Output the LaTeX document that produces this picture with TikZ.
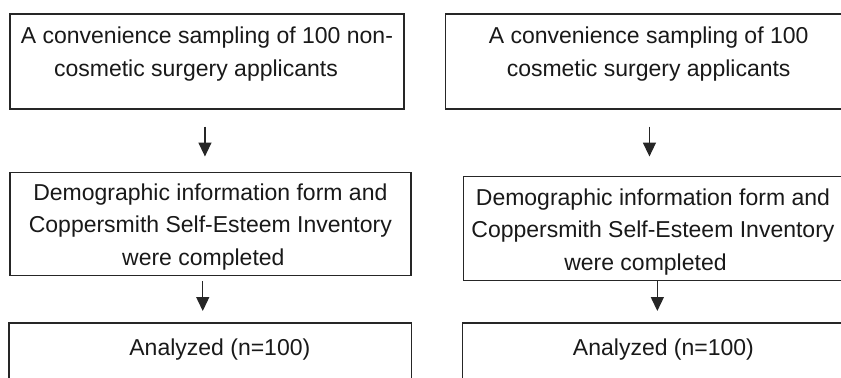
\documentclass[tikz,border=0pt]{standalone}
\usepackage{fontspec}
\setmainfont{Liberation Sans}
\usetikzlibrary{positioning}
\usetikzlibrary{arrows.meta}

\begin{document}
\begin{tikzpicture}[
    box/.style={rectangle, draw=black!85, line width=0.75pt, fill=white, inner xsep=0pt, inner ysep=0pt, font=\fontsize{11.5}{16.25}\selectfont, text=black!90},
    openbox/.style={box, draw=none, fill=none},
    frame/.style={draw=black!85, line width=0.75pt},
    arrow/.style={-{Triangle[width=6.5pt,length=7pt]}, line width=0.7pt, draw=black!85},
]
    \useasboundingbox (0,0) rectangle (420.5pt,-188.5pt);
    \clip (0,0) rectangle (420.5pt,-188.5pt);

    \node[box] (L1) [anchor=north west, minimum width=197pt, text height=15pt, text depth=32.5pt] at (4.6pt,-6.5pt) {\begin{tabular}[t]{@{}c@{}}A convenience sampling of 100 non-\\ cosmetic surgery applicants\hspace*{11pt}\end{tabular}};
    \node[box] (L2) [below=31pt of L1.south west, anchor=north west, minimum width=200.4pt, text height=14.1pt, text depth=37.4pt] {\begin{tabular}[t]{@{}c@{}}Demographic information form and\\ Coppersmith Self-Esteem Inventory\\ were completed\hspace*{7pt}\end{tabular}};
    \node[openbox] (L3) [below=23.5pt of L2.south west, anchor=north west, minimum width=200.4pt, text height=16pt, text depth=40pt] {\hspace*{9.5pt}Analyzed (n=100)};

    \node[box] (R1) [right=20pt of L1.north east, anchor=north west, minimum width=198.2pt, text height=15pt, text depth=32.5pt] {\begin{tabular}[t]{@{\hspace*{5pt}}c@{}}A convenience sampling of 100\\ cosmetic surgery applicants\end{tabular}};
    \node[box] (R2) [below=33pt of R1.south west, anchor=north west, xshift=9pt, minimum width=189.5pt, text height=14.6pt, text depth=37.4pt] {\begin{tabular}[t]{@{}c@{}}Demographic information form and\\ Coppersmith Self-Esteem Inventory\\ were completed\hspace*{7.5pt}\end{tabular}};
    \node[openbox] (R3) [below=21pt of R2.south west, anchor=north west, minimum width=189.5pt, text height=16pt, text depth=40pt] {\hspace*{10.5pt}Analyzed (n=100)};

    \draw[frame] (L3.south west) |- (L3.north east) -- (L3.south east);
    \draw[frame] (R3.south west) |- (R3.north east) -- (R3.south east);

    \draw[arrow, shorten <=8.5pt, shorten >=7.5pt] ([xshift=-1pt]L1.south) -- ([xshift=-1pt]L1.south |- L2.north);
    \draw[arrow, shorten <=2.5pt, shorten >=6pt] ([xshift=-3.8pt]L2.south) -- ([xshift=-3.8pt]L2.south |- L3.north);

    \draw[arrow, shorten <=8.5pt, shorten >=9.5pt] ([xshift=2.9pt]R1.south) -- ([xshift=2.9pt]R1.south |- R2.north);
    \draw[arrow, shorten >=6pt] ([xshift=2.2pt]R2.south) -- ([xshift=2.2pt]R2.south |- R3.north);
\end{tikzpicture}
\end{document}
